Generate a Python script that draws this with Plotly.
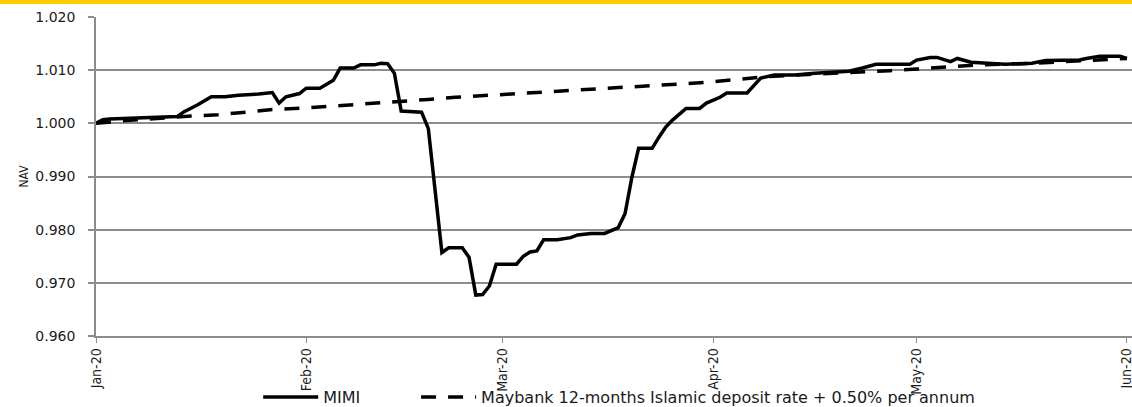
import plotly.graph_objects as go

# ---- data ----
mimi_dates = [
    "2020-01-01", "2020-01-02", "2020-01-03", "2020-01-06", "2020-01-09", "2020-01-10",
    "2020-01-13", "2020-01-14", "2020-01-16", "2020-01-18", "2020-01-20", "2020-01-22",
    "2020-01-25", "2020-01-27", "2020-01-28", "2020-01-29", "2020-01-31", "2020-02-01",
    "2020-02-03", "2020-02-05", "2020-02-06", "2020-02-08", "2020-02-09", "2020-02-11",
    "2020-02-12", "2020-02-13", "2020-02-14", "2020-02-15", "2020-02-18", "2020-02-19",
    "2020-02-21", "2020-02-22", "2020-02-24", "2020-02-25", "2020-02-26", "2020-02-27",
    "2020-02-28", "2020-02-29", "2020-03-03", "2020-03-04", "2020-03-05", "2020-03-06",
    "2020-03-07", "2020-03-09", "2020-03-11", "2020-03-12", "2020-03-14", "2020-03-16",
    "2020-03-18", "2020-03-19", "2020-03-20", "2020-03-21", "2020-03-23", "2020-03-24",
    "2020-03-25", "2020-03-26", "2020-03-28", "2020-03-30", "2020-03-31", "2020-04-02",
    "2020-04-03", "2020-04-06", "2020-04-07", "2020-04-08", "2020-04-10", "2020-04-13",
    "2020-04-16", "2020-04-18", "2020-04-21", "2020-04-23", "2020-04-25", "2020-04-30",
    "2020-05-01", "2020-05-03", "2020-05-04", "2020-05-06", "2020-05-07", "2020-05-09",
    "2020-05-11", "2020-05-13", "2020-05-14", "2020-05-18", "2020-05-20", "2020-05-25",
    "2020-05-26", "2020-05-28", "2020-05-31", "2020-06-01",
]
mimi_values = [
    1.0000, 1.0007, 1.0008, 1.0010, 1.0011, 1.0012,
    1.0013, 1.0022, 1.0035, 1.0050, 1.0050, 1.0053,
    1.0055, 1.0058, 1.0038, 1.0050, 1.0056, 1.0066,
    1.0066, 1.0081, 1.0104, 1.0104, 1.0110, 1.0110,
    1.0113, 1.0112, 1.0094, 1.0023, 1.0021, 0.9990,
    0.9757, 0.9766, 0.9766, 0.9748, 0.9677, 0.9678,
    0.9694, 0.9735, 0.9735, 0.9750, 0.9758, 0.9760,
    0.9781, 0.9781, 0.9785, 0.9790, 0.9793, 0.9793,
    0.9804, 0.9830, 0.9898, 0.9953, 0.9953, 0.9974,
    0.9993, 1.0006, 1.0028, 1.0028, 1.0038, 1.0049,
    1.0057, 1.0057, 1.0070, 1.0085, 1.0091, 1.0091,
    1.0094, 1.0096, 1.0098, 1.0104, 1.0111, 1.0111,
    1.0119, 1.0124, 1.0124, 1.0116, 1.0122, 1.0115,
    1.0113, 1.0112, 1.0111, 1.0113, 1.0118, 1.0119,
    1.0122, 1.0126, 1.0126, 1.0122,
]

bench_dates = [
    "2020-01-01", "2020-01-06", "2020-01-10", "2020-01-14", "2020-01-19", "2020-01-23",
    "2020-01-27", "2020-02-01", "2020-02-06", "2020-02-11", "2020-02-19", "2020-02-23",
    "2020-02-28", "2020-03-04", "2020-03-09", "2020-03-13", "2020-03-17", "2020-03-22",
    "2020-03-27", "2020-03-31", "2020-04-04", "2020-04-09", "2020-04-15", "2020-04-21",
    "2020-04-27", "2020-05-01", "2020-05-05", "2020-05-10", "2020-05-18", "2020-05-25",
    "2020-06-01",
]
bench_values = [
    1.0000, 1.0006, 1.0009, 1.0013, 1.0016, 1.0021,
    1.0026, 1.0029, 1.0033, 1.0037, 1.0045, 1.0049,
    1.0053, 1.0057, 1.0061, 1.0064, 1.0066, 1.0070,
    1.0075, 1.0077, 1.0082, 1.0088, 1.0092, 1.0095,
    1.0099, 1.0102, 1.0106, 1.0110, 1.0113, 1.0118,
    1.0122,
]

series_names = ["MIMI", "Maybank 12-months Islamic deposit rate + 0.50% per annum"]
y_ticks = [0.960, 0.970, 0.980, 0.990, 1.000, 1.010, 1.020]
x_ticks = ["2020-01-01", "2020-02-01", "2020-03-01", "2020-04-01", "2020-05-01", "2020-06-01"]

W, H = 1132, 407
ML, MR, MT, MB = 96, 0, 17, 71
plot_h = H - MT - MB

fig = go.Figure()
fig.add_trace(go.Scatter(
    x=mimi_dates, y=mimi_values, mode="lines",
    name=series_names[0] + "\u00a0" * 10,
    line=dict(color="black", width=3.5),
))
fig.add_trace(go.Scatter(
    x=bench_dates, y=bench_values, mode="lines",
    name=series_names[1],
    line=dict(color="black", width=3.5, dash="15px,12px"),
))

grid_col = "#8c8c8c"
fig.update_layout(
    width=W, height=H,
    margin=dict(l=ML, r=MR, t=MT, b=MB, autoexpand=False),
    paper_bgcolor="white", plot_bgcolor="white",
    font=dict(family="DejaVu Sans", color="#1a1a1a", size=13),
    showlegend=True,
    legend=dict(
        orientation="h", x=0.505, xanchor="center",
        y=-(380 - (H - MB)) / plot_h, yanchor="top",
        itemwidth=55,
        font=dict(family="DejaVu Sans", size=16, color="#1a1a1a"),
        bgcolor="rgba(0,0,0,0)",
    ),
    xaxis=dict(
        type="date", automargin=False,
        range=["2020-01-01", "2020-06-01 18:00"],
        tickvals=x_ticks, tickformat="%b-%y",
        tickangle=-90, ticklabeloverflow="allow",
        tickfont=dict(family="Liberation Sans Narrow, DejaVu Sans Condensed", size=14, color="#1a1a1a"),
        ticks="outside", ticklen=5, tickcolor=grid_col, tickwidth=1,
        showgrid=False, showline=True, linecolor=grid_col, linewidth=1.5,
        zeroline=False,
    ),
    yaxis=dict(
        automargin=False,
        range=[0.960, 1.020],
        tickvals=y_ticks, tickformat=".3f",
        tickfont=dict(family="DejaVu Sans", size=14, color="#1a1a1a"),
        ticks="outside", ticklen=6, tickcolor=grid_col, tickwidth=1.5,
        ticklabelstandoff=10,
        showgrid=True, gridcolor=grid_col, gridwidth=1.5,
        showline=True, linecolor=grid_col, linewidth=1.5,
        zeroline=False,
        title=dict(text="NAV", standoff=4,
                   font=dict(family="Liberation Sans Narrow, DejaVu Sans Condensed", size=12, color="#1a1a1a")),
    ),
)

# yellow band across the very top of the page
fig.add_shape(
    type="rect", xref="paper", yref="paper",
    x0=-ML / (W - ML - MR), x1=1.0,
    y0=1 + (MT - 4) / plot_h, y1=1 + (MT + 1) / plot_h,
    fillcolor="#FFCC00", line=dict(width=0), layer="above",
)

fig.write_html(
    "out.html",
    config={"displayModeBar": False},
    post_script="document.body.style.margin='0';document.body.style.overflow='hidden';",
)
